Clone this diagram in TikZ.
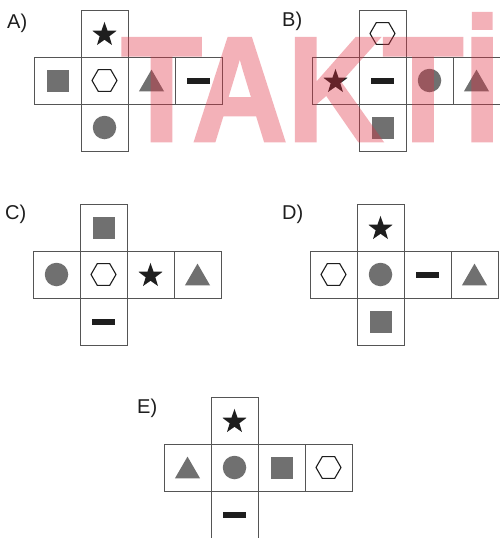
\documentclass[tikz,border=0pt]{standalone}
\usepackage{fontspec}
\setmainfont{Liberation Sans}
\newfontfamily\wmfont{Liberation Sans}[UprightFont=*-Bold, FakeBold=2]
\usetikzlibrary{shapes.geometric}
\definecolor{cellgray}{RGB}{85,85,85}
\definecolor{shgray}{RGB}{112,112,112}
\definecolor{inkblk}{RGB}{30,30,30}
\definecolor{wmred}{RGB}{225,45,65}
\tikzset{
  cell/.style={draw=cellgray, line width=0.9pt, minimum size=47pt, inner sep=0pt, outer sep=0pt},
  sq/.style={rectangle, fill=shgray, minimum size=22pt, inner sep=0pt},
  ci/.style={circle, fill=shgray, minimum size=23.5pt, inner sep=0pt},
  tri/.style={regular polygon, regular polygon sides=3, fill=shgray, minimum size=29pt, inner sep=0pt, yshift=-3.6pt},
  hexa/.style={regular polygon, regular polygon sides=6, draw=inkblk, line width=1.1pt, fill=white, minimum size=25pt, inner sep=0pt},
  starsh/.style={star, star points=5, star point ratio=2.5, fill=inkblk, minimum size=25.5pt, inner sep=0pt, yshift=-1.2pt},
  dsh/.style={rectangle, fill=inkblk, minimum width=23pt, minimum height=6pt, inner sep=0pt},
  lab/.style={font=\fontsize{20}{22}\selectfont, text=inkblk, inner sep=0pt, anchor=west},
  wmtext/.style={inner sep=0pt, text=wmred, font=\fontsize{149}{149}\wmfont}
}
% #1 name prefix, #2 x0, #3 y0, #4 top, #5-#8 row, #9 bottom
\newcommand\mynet[9]{%
  \node[cell] (#1t) at ({#2+70.5},{#3+23.5}) {};
  \node[cell] (#1r1) at ({#2+23.5},{#3+70.5}) {};
  \node[cell] (#1r2) at ({#2+70.5},{#3+70.5}) {};
  \node[cell] (#1r3) at ({#2+117.5},{#3+70.5}) {};
  \node[cell] (#1r4) at ({#2+164.5},{#3+70.5}) {};
  \node[cell] (#1b) at ({#2+70.5},{#3+117.5}) {};
  \node[#4] (#1ts) at (#1t) {};
  \node[#5] (#1s1) at (#1r1) {};
  \node[#6] (#1s2) at (#1r2) {};
  \node[#7] (#1s3) at (#1r3) {};
  \node[#8] (#1s4) at (#1r4) {};
  \node[#9] (#1bs) at (#1b) {};
}
\begin{document}
\begin{tikzpicture}[x=1pt,y=-1pt]
\useasboundingbox (0,0) rectangle (500,538);
\fill[white] (0,0) rectangle (500,538);
\mynet{A}{34}{10}{starsh}{sq}{hexa}{tri}{dsh}{ci}
\mynet{B}{312}{10}{hexa}{starsh}{dsh}{ci}{tri}{sq}
\mynet{C}{33}{204}{sq}{ci}{hexa}{starsh}{tri}{dsh}
\mynet{D}{310}{204}{starsh}{hexa}{ci}{dsh}{tri}{sq}
\mynet{E}{164}{397}{starsh}{tri}{ci}{sq}{hexa}{dsh}
\node[lab] (LA) at (7,23) {A)};
\node[lab] (LB) at (282,21) {B)};
\node[lab] (LC) at (5,214) {C)};
\node[lab] (LD) at (282,214) {D)};
\node[lab] (LE) at (137,408) {E)};
\begin{scope}[transparency group, opacity=0.37]
  \node[wmtext, anchor=base west] (wm1) at (121,141) {\scalebox{0.886}[1]{TAKT}};
  \node[wmtext, anchor=base west] (wm2) at (wm1.base east) {\scalebox{0.886}[1]{İ}};
\end{scope}
\end{tikzpicture}
\end{document}
